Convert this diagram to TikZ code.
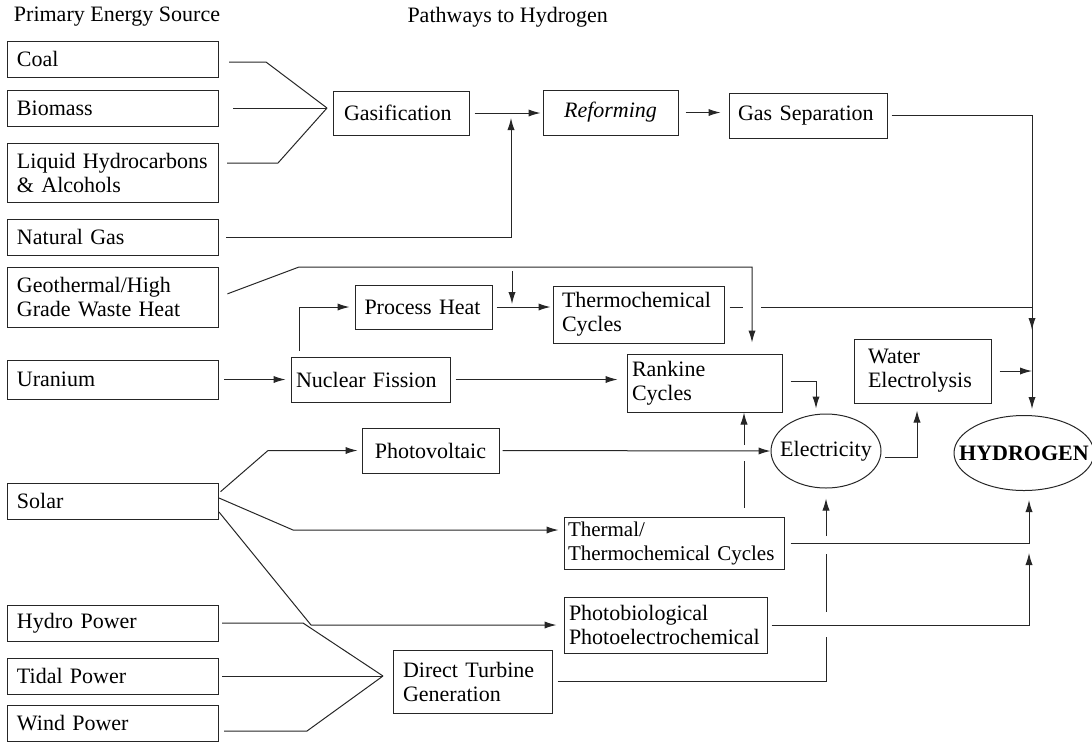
\documentclass[tikz,border=0pt]{standalone}
\usepackage{fontspec}
\setmainfont{Liberation Serif}
\usetikzlibrary{arrows.meta,shapes.geometric}
\colorlet{linecol}{black!85}

\begin{document}
\begin{tikzpicture}[x=0.5pt,y=-0.5pt,line width=0.5pt,
    >={Latex[length=6pt,width=3.6pt]},
    every node/.style={font=\fontsize{11}{12}\selectfont},
    pbox/.style={draw=linecol,rectangle,align=left,inner ysep=0pt,inner xsep=#1},
    pbox/.default=5pt,
    oval/.style={draw=linecol,ellipse,inner ysep=0pt},
    conn/.style={draw=linecol}]
    \useasboundingbox (0,0) rectangle (1092,741);

    \node[inner sep=0pt] (srchead) at (117,17) {Primary Energy Source};
    \node[inner sep=0pt,anchor=west] (pathhead) at (407,17) {Pathways to Hydrogen};

    % primary sources
    \foreach \n/\y/\h/\txt in {coal/59/18/Coal, biomass/108/18/Biomass,
        liquid/172.5/29.5/{Liquid Hydrocarbons\\\& Alcohols}, natgas/237/18/Natural Gas,
        geo/297/30/{Geothermal/High\\Grade Waste Heat}, uranium/379.5/19.5/Uranium,
        solar/501/18/Solar, hydro/623/18/Hydro Power, tidal/676/18/Tidal Power,
        wind/723/18/Wind Power}
    {
        \node[pbox=4.75pt,text width=96pt,minimum height=\h pt] (\n) at (113,\y) {\txt};
    }

    % pathways
    \node[pbox=5.5pt,text width=57pt,minimum height=22pt] (gasif) at (401,113) {Gasification};
    \node[pbox=5pt,text width=57.5pt,minimum height=22.5pt,align=center] (reform) at (610.5,112.5) {\textit{Reforming}};
    \node[pbox=4.5pt,text width=70pt,minimum height=22.5pt] (gassep) at (808,115.5) {Gas Separation};
    \node[pbox=4.75pt,text width=59pt,minimum height=22pt] (procheat) at (423.5,307) {Process Heat};
    \node[pbox=4.5pt,text width=76.5pt,minimum height=28.5pt] (thermo) at (638.5,314.5) {Thermochemical\\Cycles};
    \node[pbox=2.5pt,text width=74.5pt,minimum height=22.5pt] (nuclear) at (370.5,379.5) {Nuclear Fission};
    \node[pbox=2.5pt,text width=72.5pt,minimum height=29pt] (rankine) at (704.5,383) {Rankine\\Cycles};
    \node[pbox=7pt,text width=54.5pt,minimum height=32pt] (water) at (922.5,371) {Water\\Electrolysis};
    \node[pbox=5pt,text width=58.5pt,minimum height=22.5pt,align=center] (photov) at (430.5,450.5) {Photovoltaic};
    \node[pbox=2pt,text width=106pt,minimum height=26pt,font=\fontsize{10.5}{12}\selectfont] (thermal) at (674,543) {Thermal/\\Thermochemical Cycles};
    \node[pbox=2.5pt,text width=96.5pt,minimum height=28pt] (photobio) at (665.5,625) {Photobiological\\Photoelectrochemical};
    \node[pbox=5pt,text width=69.5pt,minimum height=31.5pt] (turbine) at (472.5,681.5) {Direct Turbine\\Generation};
    \node[oval,inner xsep=-4pt,minimum width=55pt,minimum height=37pt] (elec) at (826,451) {Electricity};
    \node[oval,inner xsep=-8pt,minimum width=70pt,minimum height=37.5pt,font=\fontsize{11}{12}\selectfont\bfseries] (hydrogen) at (1024,453) {HYDROGEN};

    \coordinate (gin) at (327,108);
    \coordinate (gr) at (511,113);
    \coordinate (hin) at (1032,416);
    \coordinate (hbot) at (1029,491);
    \coordinate (gk) at (752,267);
    \coordinate (drop) at (512,271);
    \coordinate (tin) at (383,676);
    \coordinate (tc1) at (743,307);
    \coordinate (tc2) at (761,307);
    \coordinate (hj) at (1032,330);
    \coordinate (tv1) at (744,461);
    \coordinate (tv2) at (744,445);
    \coordinate (ev1) at (826,637);
    \coordinate (ev2) at (826,612);
    \coordinate (ev3) at (826,554);
    \coordinate (ev4) at (826,536);

    % gas route
    \draw[conn,shorten <=5pt] (coal.east |- 0,62) -- (266,62) -- (gin);
    \draw[conn,shorten <=7pt] (biomass.east) -- (gin);
    \draw[conn,shorten <=4pt] (liquid.east |- 0,163) -- (278,163) -- (gin);
    \draw[conn,->,shorten <=2.5pt,shorten >=1pt] (gasif.east) -- (gasif.east -| reform.west);
    \draw[conn,->,shorten <=3.5pt,shorten >=2.5pt] (natgas.east) -| (gr);
    \draw[conn,->,shorten <=3.5pt,shorten >=4pt] (reform.east) -- (reform.east -| gassep.west);
    \draw[conn,->,shorten <=2pt,shorten >=3.5pt] (gassep.east) -| (hin);

    % heat route
    \draw[conn,->,shorten <=4.5pt,shorten >=5.5pt] (geo.east) -- (299,267) -- (gk) -- (gk |- rankine.north);
    \draw[conn,->,shorten >=1.5pt] (drop) -- (drop |- procheat.east);
    \draw[conn,->,shorten <=2pt,shorten >=1pt] (procheat.east) -- (procheat.east -| thermo.west);
    \draw[conn,shorten <=2.5pt] (thermo.east |- tc1) -- (tc1);
    \draw[conn,->] (tc2) -- (tc2 -| hj) -- (hj);
    \draw[conn,->,shorten <=2.5pt,shorten >=2.5pt] (uranium.east) -- (uranium.east -| nuclear.west);
    \draw[conn,->,shorten <=3pt,shorten >=2.5pt] ([xshift=4.5pt]nuclear.north west) |- (procheat.west);
    \draw[conn,->,shorten <=2.5pt,shorten >=4.5pt] (nuclear.east) -- (nuclear.east -| rankine.west);
    \draw[conn,->,shorten <=4pt,shorten >=2.5pt] (rankine.east |- 0,381) -| ([xshift=-5pt]elec.north);

    % solar
    \draw[conn,->,shorten <=1pt,shorten >=2pt] ([yshift=4pt]solar.east) -- (268,450.5) -- (photov.west);
    \draw[conn,->,shorten <=1.5pt] (photov.east) -- (elec.west);
    \draw[conn,->,shorten >=2.5pt] ([yshift=1.5pt]solar.east) -- (293,530) -- (293,530 -| thermal.west);
    \draw[conn,->,shorten >=3.5pt] ([yshift=-5.5pt]solar.east) -- (311,625) -- (photobio.west);

    % hydro, tidal, wind
    \draw[conn,shorten <=1.5pt] (hydro.east) -- (303,623) -- (tin);
    \draw[conn,shorten <=1.5pt] (tidal.east) -- (tin);
    \draw[conn,shorten <=2.5pt] (wind.east |- 0,731) -- (307,731) -- (tin);

    % to electricity and hydrogen
    \draw[conn,shorten <=4.5pt] (tv1 |- thermal.north) -- (tv1);
    \draw[conn,->] (tv2) -- (tv2 |- rankine.south);
    \draw[conn,->,shorten <=1.5pt,shorten >=3.5pt] ([yshift=-3pt]elec.east) -| ([xshift=-2.75pt]water.south);
    \draw[conn,->,shorten <=4pt] (water.east) -- (water.east -| hin);
    \draw[conn,shorten <=2.5pt] (turbine.east) -| (ev1);
    \draw[conn] (ev2) -- (ev3);
    \draw[conn,->,shorten >=5pt] (ev4) -- (elec.south);
    \draw[conn,->,shorten <=3pt,shorten >=4.5pt] (thermal.east) -| (hbot);
    \draw[conn,->,shorten <=2pt,shorten >=5pt] (photobio.east) -| (hbot |- thermal.east);
\end{tikzpicture}
\end{document}
